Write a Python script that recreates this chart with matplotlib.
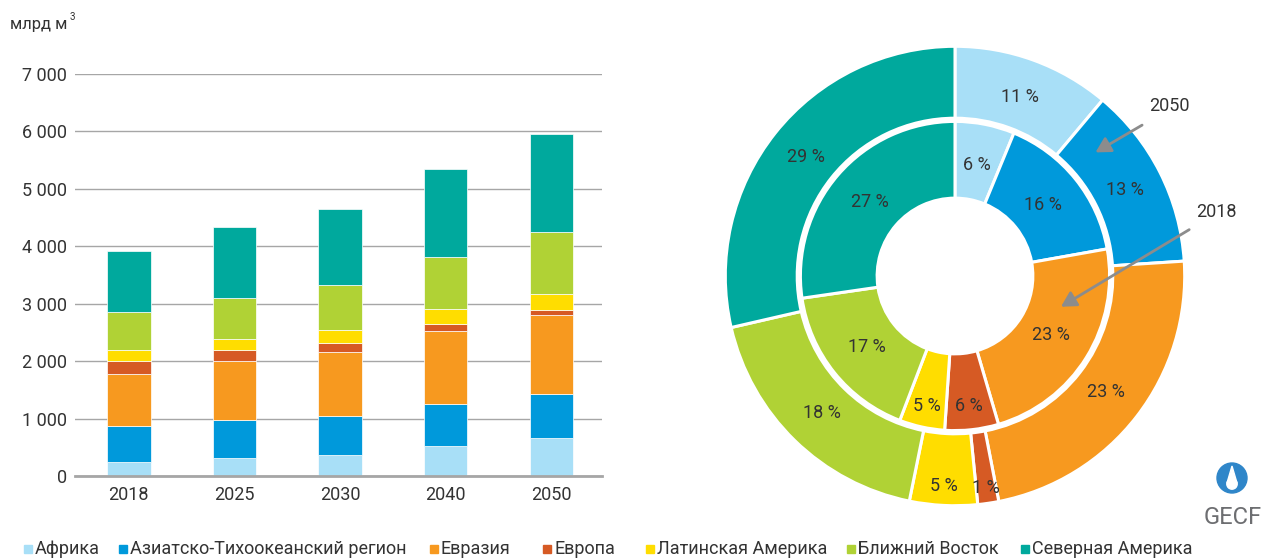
import matplotlib.pyplot as plt
import numpy as np
from matplotlib.patches import Circle, Polygon, Rectangle
from matplotlib.ticker import FuncFormatter

plt.rcParams['font.family'] = ['Roboto', 'DejaVu Sans']

# Data (billion m3), stacked by region
years = ['2018', '2025', '2030', '2040', '2050']
regions = ['Африка', 'Азиатско-Тихоокеанский регион', 'Евразия', 'Европа',
           'Латинская Америка', 'Ближний Восток', 'Северная Америка']
colors = ['#a8dff7', '#0099db', '#f7991f', '#d65a24', '#ffdd00', '#b0d235', '#00a99d']

africa = [244, 308, 371, 517, 662]
asia_pacific = [626, 661, 679, 737, 766]
eurasia = [912, 1039, 1109, 1271, 1369]
europe = [220, 180, 163, 116, 88]
latin_america = [186, 203, 214, 261, 284]
middle_east = [662, 702, 795, 905, 1085]
north_america = [1070, 1243, 1326, 1538, 1704]

series = [africa, asia_pacific, eurasia, europe, latin_america, middle_east, north_america]
text_col = '#333333'

fig = plt.figure(figsize=(12.65, 5.58), dpi=100)

# ---- stacked bars ----
ax = fig.add_axes([75 / 1265, 82 / 558, 527 / 1265, 402 / 558])
x = np.arange(len(years))
bottom = np.zeros(len(years))
for vals, c in zip(series, colors):
    ax.bar(x, vals, 0.41, bottom=bottom, color=c, edgecolor='white', linewidth=0.5, zorder=3)
    bottom += np.array(vals)

ax.set_xlim(-0.51, 4.48)
ax.set_ylim(0, 7000)
ax.set_yticks(range(0, 7001, 1000))
ax.yaxis.set_major_formatter(FuncFormatter(lambda v, p: f'{int(v):,}'.replace(',', ' ')))
ax.set_xticks(x)
ax.set_xticklabels(years)
ax.grid(axis='y', color='#a6a6a6', linewidth=1, zorder=0)
for s in ['top', 'right', 'left']:
    ax.spines[s].set_visible(False)
ax.spines['bottom'].set_color('#a6a6a6')
ax.spines['bottom'].set_linewidth(2)
ax.spines['bottom'].set_zorder(4)
ax.tick_params(axis='both', length=0, labelsize=13, labelcolor=text_col)
ax.tick_params(axis='y', pad=6)
ax.tick_params(axis='x', pad=7)
fig.text(10 / 1265, 1 - 24 / 558, 'млрд м', fontsize=12, color=text_col, va='center')
fig.text(70 / 1265, 1 - 17 / 558, '3', fontsize=7, color=text_col, va='center')

# ---- double donut: inner 2018, outer 2050 ----
pax = fig.add_axes([(955 - 235) / 1265, (558 - 276 - 235) / 558, 470 / 1265, 470 / 558])
v2018 = [s[0] for s in series]
v2050 = [s[-1] for s in series]


def pct(v):
    return f'{v:.0f} %'


outer_w = 0.313
inner_r = 0.673
inner_w = 0.334
_, _, outer_txt = pax.pie(v2050, colors=colors, radius=1.0, startangle=90, counterclock=False,
                          wedgeprops=dict(width=outer_w, edgecolor='white', linewidth=2.2),
                          autopct=pct, pctdistance=0.83,
                          textprops=dict(fontsize=13, color=text_col))
_, _, inner_txt = pax.pie(v2018, colors=colors, radius=inner_r, startangle=90, counterclock=False,
                          wedgeprops=dict(width=inner_w, edgecolor='white', linewidth=2.2),
                          autopct=pct, pctdistance=0.73,
                          textprops=dict(fontsize=13, color=text_col))

# small bottom slices: labels pushed outward
for txts, moves in [(outer_txt, {3: 0.935, 4: 0.915}), (inner_txt, {3: 0.57, 4: 0.58})]:
    for i, r in moves.items():
        px, py = txts[i].get_position()
        a = np.arctan2(py, px)
        txts[i].set_position((r * np.cos(a), r * np.sin(a)))

pax.set_xlim(-235 / 229.7, 235 / 229.7)
pax.set_ylim(-235 / 229.7, 235 / 229.7)
pax.set_aspect('equal')
pax.axis('off')

arrow = dict(arrowstyle='-|>,head_length=0.9,head_width=0.5', color='#8c8c8c', lw=2)
pax.annotate('', xy=(0.601, 0.532), xytext=(0.825, 0.663), arrowprops=arrow, annotation_clip=False)
pax.annotate('', xy=(0.451, -0.140), xytext=(1.030, 0.208), arrowprops=arrow, annotation_clip=False)
pax.text(0.933, 0.739, '2050', fontsize=13, color=text_col, ha='center', va='center', clip_on=False)
pax.text(1.138, 0.280, '2018', fontsize=13, color=text_col, ha='center', va='center', clip_on=False)

# ---- legend, placed entry by entry ----
legend_x = [24, 119, 430, 543, 646, 847, 1021]
for lx, name, c in zip(legend_x, regions, colors):
    fig.add_artist(Rectangle((lx / 1265, 1 - 553 / 558), 8 / 1265, 8 / 558,
                             transform=fig.transFigure, color=c))
    fig.text((lx + 11) / 1265, 1 - 549 / 558, name, fontsize=13, color=text_col, va='center')

# ---- GECF logo ----
lax = fig.add_axes([1200 / 1265, 0, 65 / 1265, 100 / 558])
lax.set_xlim(0, 65)
lax.set_ylim(0, 100)
lax.axis('off')
lax.add_patch(Circle((32, 80), 15, color='#2f86c9'))
lax.add_patch(Polygon([[32, 92], [27, 75], [37, 75]], closed=True, color='white'))
lax.add_patch(Circle((32, 74), 5.2, color='white'))
lax.text(33, 40, 'GECF', fontsize=17, color='#6d6e71', ha='center', va='center', family='Roboto')

fig.savefig('out.png', dpi=100)
